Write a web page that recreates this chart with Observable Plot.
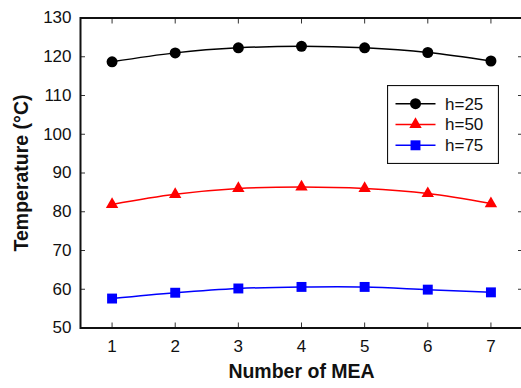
<!DOCTYPE html>
<html><head><meta charset="utf-8">
<script src="https://cdn.jsdelivr.net/npm/d3@7"></script>
<script src="https://cdn.jsdelivr.net/npm/@observablehq/plot@0.6"></script>
<style>
body{margin:0;background:#fff;overflow:hidden}
#wrap{position:relative;width:521px;height:388px;overflow:hidden}
#legend{position:absolute;left:387px;top:85px}
</style></head><body><div id="wrap"></div>
<script>
const mea = [1, 2, 3, 4, 5, 6, 7];
const h25 = [118.7, 121.0, 122.3, 122.7, 122.3, 121.1, 118.9];
const h50 = [81.9, 84.5, 86.0, 86.4, 86.0, 84.7, 82.1];
const h75 = [57.6, 59.1, 60.2, 60.6, 60.6, 59.9, 59.2];
const seriesNames = ["h=25", "h=50", "h=75"];
const seriesValues = [h25, h50, h75];
const colors = ["#000000", "#ff0000", "#0000ff"];
const symbols = ["circle", "triangle", "square"];
const radii = [5.5, 4.6, 5.6];
const yTicks = [50, 60, 70, 80, 90, 100, 110, 120, 130];

const rows = [];
seriesNames.forEach((s, i) => mea.forEach((m, j) => rows.push({series: s, mea: m, temp: seriesValues[i][j]})));

const font = "'Liberation Sans', Arial, sans-serif";
const marks = [];
seriesNames.forEach((s, i) => {
  const d = rows.filter(r => r.series === s);
  marks.push(Plot.line(d, {x: "mea", y: "temp", stroke: colors[i], strokeWidth: 1.5, curve: "catmull-rom"}));
  marks.push(Plot.dot(d, {x: "mea", y: "temp", fill: colors[i], stroke: "none", symbol: symbols[i], r: radii[i]}));
});

const chart = Plot.plot({
  width: 521, height: 388,
  marginLeft: 80, marginRight: -1, marginTop: 17.5, marginBottom: 60.5,
  style: {fontFamily: font, fontSize: "17px", color: "#111", background: "#fff"},
  x: {domain: [0.5, 7.5]},
  y: {domain: [50, 130]},
  marks: [
    Plot.axisX(mea, {anchor: "bottom", tickSize: -5, tickPadding: 17.4, label: null, stroke: "#333", fontSize: 17}),
    Plot.axisX(mea, {anchor: "top", tickSize: -5, tickFormat: () => "", label: null, stroke: "#333"}),
    Plot.axisY(yTicks, {anchor: "left", tickSize: -5, tickPadding: 14, label: null, stroke: "#333", fontSize: 17}),
    Plot.axisY(yTicks, {anchor: "right", tickSize: -5, tickFormat: () => "", label: null, stroke: "#333"}),
    Plot.frame({stroke: "#111", strokeWidth: 2}),
    ...marks,
    Plot.text(["Number of MEA"], {frameAnchor: "bottom", text: d => d, dy: 50.3, fontSize: 19.5, fontWeight: "bold", fill: "#111", textAnchor: "middle"}),
    Plot.text(["Temperature (°C)"], {frameAnchor: "left", text: d => d, rotate: -90, dx: -59, fontSize: 19.5, fontWeight: "bold", fill: "#111", textAnchor: "middle"})
  ]
});
document.getElementById("wrap").appendChild(chart);

// legend
const lg = d3.select("#wrap").append("svg").attr("id", "legend")
  .attr("width", 112).attr("height", 79);
lg.append("rect").attr("x", 0.5).attr("y", 0.5).attr("width", 111).attr("height", 78)
  .attr("fill", "#fff").attr("stroke", "#111").attr("stroke-width", 1.2);
const rowY = [18.7, 39.5, 60.3];
const symMap = {circle: d3.symbolCircle, triangle: d3.symbolTriangle, square: d3.symbolSquare};
seriesNames.forEach((s, i) => {
  const g = lg.append("g").attr("transform", `translate(0,${rowY[i]})`);
  g.append("line").attr("x1", 8.5).attr("x2", 48.5).attr("y1", 0).attr("y2", 0)
    .attr("stroke", colors[i]).attr("stroke-width", 1.5);
  g.append("path").attr("transform", "translate(28.5,0)")
    .attr("d", d3.symbol(symMap[symbols[i]], Math.PI * radii[i] * radii[i])())
    .attr("fill", colors[i]);
  g.append("text").attr("x", 58).attr("y", 0).attr("dy", "0.35em")
    .attr("font-family", font).attr("font-size", 17).attr("fill", "#111").text(s);
});
</script></body></html>
